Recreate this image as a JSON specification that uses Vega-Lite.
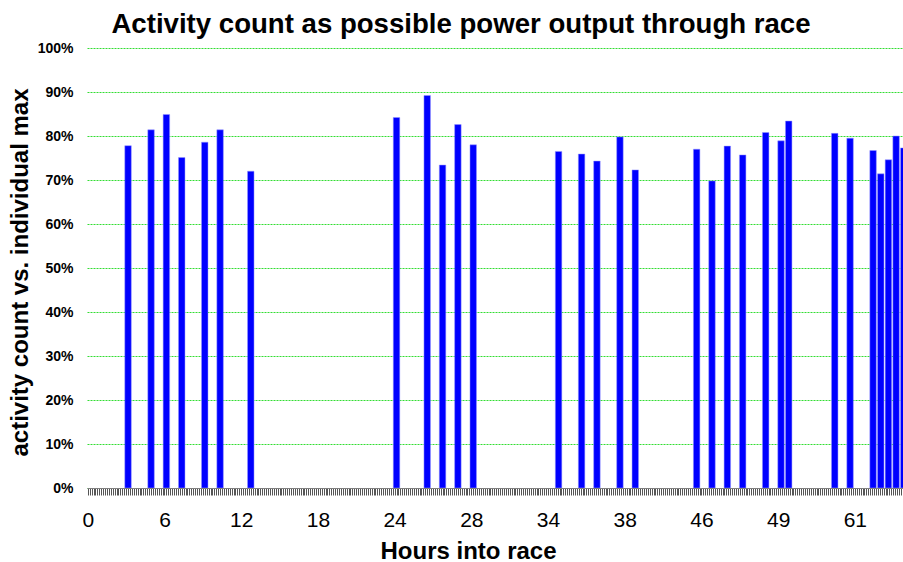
{
  "$schema": "https://vega.github.io/schema/vega-lite/v6.json",
  "autosize": "none",
  "width": 816,
  "height": 440,
  "padding": {"left": 87, "top": 48, "right": 0, "bottom": 74},
  "background": "white",
  "title": {
    "text": "Activity count as possible power output through race",
    "font": "Liberation Sans",
    "fontSize": 27.6,
    "fontWeight": "bold",
    "color": "#000000",
    "anchor": "middle",
    "frame": "group",
    "dx": -34,
    "offset": 2
  },
  "config": {
    "view": {"stroke": null},
    "font": "Liberation Sans"
  },
  "data": {
    "values": [
      {"slot": 21, "pct": 0.778},
      {"slot": 33, "pct": 0.814},
      {"slot": 41, "pct": 0.849},
      {"slot": 49, "pct": 0.751},
      {"slot": 61, "pct": 0.786},
      {"slot": 69, "pct": 0.814},
      {"slot": 85, "pct": 0.720},
      {"slot": 161, "pct": 0.842},
      {"slot": 177, "pct": 0.892},
      {"slot": 185, "pct": 0.734},
      {"slot": 193, "pct": 0.826},
      {"slot": 201, "pct": 0.780},
      {"slot": 245.5, "pct": 0.765},
      {"slot": 257.5, "pct": 0.759},
      {"slot": 265.5, "pct": 0.743},
      {"slot": 277.5, "pct": 0.798},
      {"slot": 285.5, "pct": 0.723},
      {"slot": 317.5, "pct": 0.770},
      {"slot": 325.5, "pct": 0.698},
      {"slot": 333.5, "pct": 0.777},
      {"slot": 341.5, "pct": 0.757},
      {"slot": 353.5, "pct": 0.808},
      {"slot": 361.5, "pct": 0.789},
      {"slot": 365.5, "pct": 0.834},
      {"slot": 389.5, "pct": 0.806},
      {"slot": 397.5, "pct": 0.795},
      {"slot": 409.5, "pct": 0.767},
      {"slot": 413.5, "pct": 0.714},
      {"slot": 417.5, "pct": 0.746},
      {"slot": 421.5, "pct": 0.800},
      {"slot": 425.5, "pct": 0.773}
    ]
  },
  "mark": {"type": "bar", "size": 6.5, "color": "#0000FF", "stroke": "#9999ff", "strokeWidth": 0.5, "clip": true},
  "encoding": {
    "x": {
      "field": "slot",
      "type": "quantitative",
      "scale": {"domain": [-0.4, 425.1], "nice": false, "zero": false, "padding": 0},
      "axis": {
        "title": "Hours into race",
        "titleFont": "Liberation Sans",
        "titleFontSize": 24,
        "titleFontWeight": "bold",
        "titleColor": "#000000",
        "titleX": 381,
        "titleY": 70,
        "titleBaseline": "alphabetic",
        "titleAnchor": null,
        "tickCount": 426,
        "grid": false,
        "domain": true,
        "domainColor": "#808080",
        "ticks": true,
        "tickColor": "#555555",
        "tickSize": 7,
        "tickWidth": 1,
        "labelExpr": "datum.value % 40 == 0 ? ['0','6','12','18','24','28','34','38','46','49','61'][datum.value / 40] : ''",
        "labelOverlap": false,
        "labelFlush": false,
        "labelFont": "Liberation Sans",
        "labelFontSize": 21,
        "labelColor": "#000000",
        "labelPadding": 14,
        "labelBaseline": "top"
      }
    },
    "y": {
      "field": "pct",
      "type": "quantitative",
      "scale": {"domain": [0, 1], "nice": false},
      "axis": {
        "title": "activity count vs. individual max",
        "titleFont": "Liberation Sans",
        "titleFontSize": 24,
        "titleFontWeight": "bold",
        "titleColor": "#000000",
        "titleAngle": 270,
        "titleBaseline": "middle",
        "titleX": -67,
        "titleY": 224,
        "values": [0, 0.1, 0.2, 0.3, 0.4, 0.5, 0.6, 0.7, 0.8, 0.9, 1],
        "format": ".0%",
        "grid": true,
        "gridColor": "#33dd33",
        "gridDash": [2, 1],
        "gridWidth": 1,
        "domain": false,
        "ticks": false,
        "labelFont": "Liberation Sans",
        "labelFontSize": 14,
        "labelFontWeight": "bold",
        "labelColor": "#000000",
        "labelPadding": 14
      }
    }
  }
}
